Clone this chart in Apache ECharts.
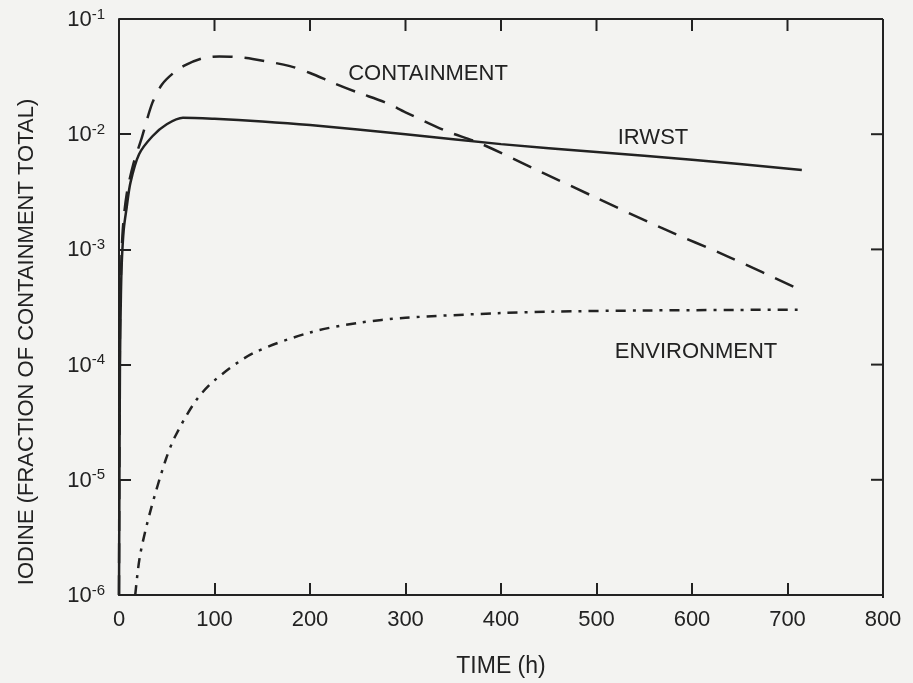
<!DOCTYPE html>
<html>
<head>
<meta charset="utf-8">
<script src="https://cdn.jsdelivr.net/npm/echarts@6/dist/echarts.min.js"></script>
<style>
html,body{margin:0;padding:0;background:#f3f3f1;}
#c{width:913px;height:683px;}
</style>
</head>
<body>
<div id="c"></div>
<script>
// ---- data (time in h, iodine as fraction of containment total) ----
var irwstT = [0, 1, 2, 3, 5, 8, 12, 21, 35, 50, 67, 100, 150, 200, 300, 400, 500, 600, 715];
var irwstV = [1e-6, 1e-4, 4e-4, 8e-4, 1.5e-3, 2.3e-3, 3.8e-3, 6.7e-3, 9.6e-3, 1.22e-2, 1.39e-2, 1.36e-2, 1.29e-2, 1.2e-2, 1.0e-2, 8.2e-3, 7.0e-3, 6.0e-3, 4.9e-3];

var contT = [0, 1, 2, 4, 8, 15, 24, 35, 45, 57, 70, 88, 105, 120, 140, 179, 200, 226, 250, 278, 300, 342, 377, 442, 498, 567, 640, 716];
var contV = [1e-6, 2e-4, 6e-4, 1.5e-3, 3e-3, 5.5e-3, 9.4e-3, 1.88e-2, 2.7e-2, 3.4e-2, 4.0e-2, 4.57e-2, 4.73e-2, 4.7e-2, 4.5e-2, 3.9e-2, 3.4e-2, 2.75e-2, 2.3e-2, 1.9e-2, 1.55e-2, 1.07e-2, 8.4e-3, 4.7e-3, 2.85e-3, 1.55e-3, 8.5e-4, 4.35e-4];

var envT = [17, 22, 33, 49, 59, 80, 100, 140, 200, 250, 300, 400, 450, 550, 716];
var envV = [1e-6, 2.2e-6, 5.4e-6, 1.5e-5, 2.4e-5, 4.8e-5, 7.3e-5, 1.25e-4, 1.9e-4, 2.3e-4, 2.55e-4, 2.8e-4, 2.88e-4, 2.95e-4, 3.0e-4];

var xTicks = [0, 100, 200, 300, 400, 500, 600, 700, 800];
var yTickExp = ['-1', '-2', '-3', '-4', '-5', '-6'];

var seriesNames = ['IRWST', 'CONTAINMENT', 'ENVIRONMENT'];
var xTitle = 'TIME (h)';
var yTitle = 'IODINE (FRACTION OF CONTAINMENT TOTAL)';

function pairs(t, v) { return t.map(function (x, i) { return [x, v[i]]; }); }

var FONT = '"Liberation Sans", Arial, sans-serif';
var INK = '#222222';

var chart = echarts.init(document.getElementById('c'), null, {renderer: 'canvas'});
chart.setOption({
  backgroundColor: '#f3f3f1',
  animation: false,
  grid: {left: 119, right: 30, top: 19, bottom: 85, show: false},
  xAxis: {
    type: 'value', min: 0, max: 800, interval: 100,
    name: xTitle, nameLocation: 'middle', nameGap: 60,
    nameTextStyle: {fontFamily: FONT, fontSize: 23, color: INK},
    axisLine: {show: true, onZero: false, lineStyle: {color: INK, width: 2}},
    axisTick: {show: true, inside: true, length: 12, lineStyle: {color: INK, width: 2}},
    axisLabel: {margin: 14, fontFamily: FONT, fontSize: 22, color: INK,
      formatter: function (v) { return xTicks.indexOf(v) >= 0 ? String(v) : ''; }},
    splitLine: {show: false}
  },
  yAxis: {
    type: 'log', logBase: 10, min: 1e-6, max: 1e-1,
    axisLine: {show: true, lineStyle: {color: INK, width: 2}},
    axisTick: {show: true, inside: true, length: 12, lineStyle: {color: INK, width: 2}},
    minorTick: {show: false},
    axisLabel: {
      margin: 14,
      formatter: function (v) {
        var e = Math.round(Math.log10(v));
        return '{b|10}{s|' + e + '}';
      },
      rich: {
        b: {fontFamily: FONT, fontSize: 22, color: INK, verticalAlign: 'bottom', lineHeight: 24},
        s: {fontFamily: FONT, fontSize: 15, color: INK, verticalAlign: 'top', padding: [0, 0, 11, 0], lineHeight: 24}
      }
    },
    splitLine: {show: false}
  },
  series: [
    {name: seriesNames[0], type: 'line', data: pairs(irwstT, irwstV), smooth: 0.3, showSymbol: false,
      lineStyle: {color: INK, width: 2.5, type: 'solid'}},
    {name: seriesNames[1], type: 'line', data: pairs(contT, contV), smooth: 0.3, showSymbol: false,
      lineStyle: {color: INK, width: 2.5, type: [20, 12]}},
    {name: seriesNames[2], type: 'line', data: pairs(envT, envV), smooth: 0.3, showSymbol: false,
      lineStyle: {color: INK, width: 2.5, type: [10, 7, 3, 7]}}
  ],
  graphic: [
    {type: 'line', shape: {x1: 119, y1: 19, x2: 883, y2: 19}, style: {stroke: INK, lineWidth: 2}, silent: true},
    {type: 'line', shape: {x1: 883, y1: 19, x2: 883, y2: 598}, style: {stroke: INK, lineWidth: 2}, silent: true},
    {type: 'text', x: 27, y: 342, rotation: Math.PI / 2,
      style: {text: yTitle, font: '22px ' + FONT, fill: INK, textAlign: 'center', textVerticalAlign: 'middle'}, silent: true},
    {type: 'text', x: 428, y: 74, style: {text: seriesNames[1], font: '22px ' + FONT, fill: INK, textAlign: 'center', textVerticalAlign: 'middle'}, silent: true},
    {type: 'text', x: 653, y: 138, style: {text: seriesNames[0], font: '22px ' + FONT, fill: INK, textAlign: 'center', textVerticalAlign: 'middle'}, silent: true},
    {type: 'text', x: 696, y: 352, style: {text: seriesNames[2], font: '22px ' + FONT, fill: INK, textAlign: 'center', textVerticalAlign: 'middle'}, silent: true}
  ]
});

// inward ticks on top and right edges, placed via the axes' own scales
(function () {
  var extra = [];
  xTicks.forEach(function (x) {
    if (x === 0 || x === 800) return;
    var p = chart.convertToPixel({gridIndex: 0}, [x, 1e-1]);
    extra.push({type: 'line', shape: {x1: p[0], y1: p[1], x2: p[0], y2: p[1] + 12}, style: {stroke: INK, lineWidth: 2}, silent: true});
  });
  yTickExp.forEach(function (e) {
    var v = Math.pow(10, Number(e));
    if (e === '-1' || e === '-6') return;
    var p = chart.convertToPixel({gridIndex: 0}, [800, v]);
    extra.push({type: 'line', shape: {x1: p[0] - 12, y1: p[1], x2: p[0], y2: p[1]}, style: {stroke: INK, lineWidth: 2}, silent: true});
  });
  var opt = chart.getOption();
  chart.setOption({graphic: opt.graphic[0].elements.concat(extra)}, {replaceMerge: ['graphic']});
})();
</script>
</body>
</html>
